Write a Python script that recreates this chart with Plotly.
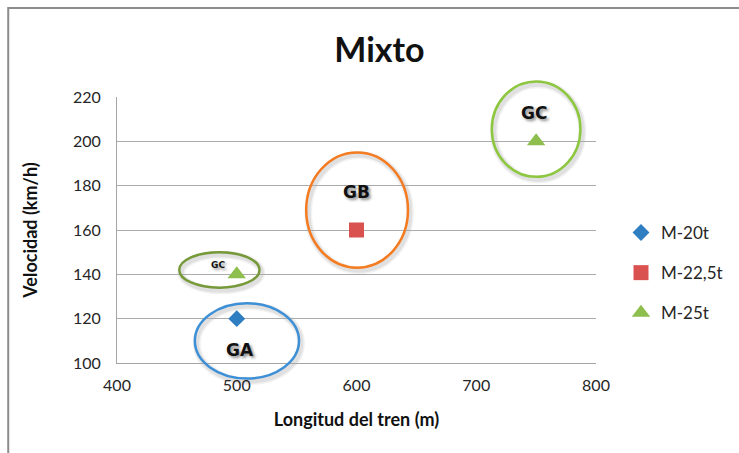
import plotly.graph_objects as go

# Series data
series_names = ["M-20t", "M-22,5t", "M-25t"]
m20_x = [500]
m20_y = [120]
m225_x = [600]
m225_y = [160]
m25_x = [500, 750]
m25_y = [140, 200]

# Group ellipses (label, x0, x1, y0, y1 in data units) and label positions
group_labels = ["GA", "GB", "GC", "GC"]
group_x0 = [465, 558, 713, 452]
group_x1 = [552, 643, 787, 519]
group_y0 = [93, 143, 184, 134]
group_y1 = [127, 195, 227, 150]
group_lx = [503, 600, 748, 484]
group_ly = [106, 177, 213, 144]
group_fs = [17, 17, 17, 9]
group_colors = ["#3D8FD6", "#F47B20", "#8DC63F", "#76993A"]

X_RANGE = [400, 800]
Y_RANGE = [100, 220]


def fx(v):
    return (v - X_RANGE[0]) / (X_RANGE[1] - X_RANGE[0])


def fy(v):
    return (v - Y_RANGE[0]) / (Y_RANGE[1] - Y_RANGE[0])


fig = go.Figure()
fig.add_trace(go.Scatter(x=m20_x, y=m20_y, mode="markers", name=series_names[0],
                         legendgroup="a",
                         marker=dict(symbol="diamond", size=13, color="#2F7EC1")))
fig.add_trace(go.Scatter(x=m225_x, y=m225_y, mode="markers", name=series_names[1],
                         legendgroup="b",
                         marker=dict(symbol="square", size=15, color="#D9524F")))
fig.add_trace(go.Scatter(x=m25_x, y=m25_y, mode="markers", name=series_names[2],
                         legendgroup="c",
                         marker=dict(symbol="triangle-up", size=16, color="#8DBE4E")))

shapes = []
annotations = []
for lab, x0, x1, y0, y1, lx, ly, fs, col in zip(group_labels, group_x0, group_x1, group_y0,
                                                group_y1, group_lx, group_ly, group_fs,
                                                group_colors):
    # soft shadow under the ellipse
    for w, a in [(8, 0.05), (5, 0.07)]:
        shapes.append(dict(type="circle", xref="x domain", yref="y domain",
                           x0=fx(x0) + 0.004, x1=fx(x1) + 0.004,
                           y0=fy(y0) - 0.01, y1=fy(y1) - 0.01,
                           line=dict(color=f"rgba(0,0,0,{a})", width=w), layer="below"))
    shapes.append(dict(type="circle", xref="x domain", yref="y domain",
                       x0=fx(x0), x1=fx(x1), y0=fy(y0), y1=fy(y1),
                       line=dict(color=col, width=2.5), layer="above"))
    # group label with a soft drop shadow
    annotations.append(dict(x=lx, y=ly, xref="x", yref="y", text=f"<b>{lab}</b>",
                            showarrow=False,
                            font=dict(family="DejaVu Sans", size=fs, color="#111111",
                                      shadow="2px 2px 3px rgba(0,0,0,0.45)")))

# outer chart frame
shapes.append(dict(type="rect", xref="paper", yref="paper",
                   x0=(8 - 117) / 480, x1=(760 - 117) / 480,
                   y0=-(480 - 363) / 266, y1=1 + (97 - 8) / 266,
                   line=dict(color="#8C8C8C", width=2), layer="below"))

fig.update_layout(
    width=739, height=453,
    margin=dict(l=117, r=142, t=97, b=90),
    paper_bgcolor="white", plot_bgcolor="white",
    font=dict(family="Lato", size=16, color="#262626"),
    title=dict(text="<b>Mixto</b>", x=(380 - 117) / 480, xref="paper", xanchor="center",
               y=1 - 50 / 453, yanchor="middle",
               font=dict(family="Lato", size=34, color="#111111")),
    xaxis=dict(range=X_RANGE, dtick=100, showgrid=False, zeroline=False,
               showline=True, linecolor="#A6A6A6", linewidth=1,
               ticks="", ticklabelstandoff=8,
               title=dict(text="<b>Longitud del tren (m)</b>", standoff=20,
                          font=dict(size=18, color="#111111"))),
    yaxis=dict(range=Y_RANGE, dtick=20, showgrid=True, gridcolor="#ABABAB", gridwidth=1,
               zeroline=False, showline=True, linecolor="#A6A6A6", linewidth=1,
               ticks="", ticklabelstandoff=12,
               title=dict(text="<b>Velocidad (km/h)</b>", standoff=30,
                          font=dict(size=18, color="#111111"))),
    legend=dict(x=1.05, xanchor="left", y=(363 - 215) / 266, yanchor="top",
                font=dict(size=17, color="#262626"), tracegroupgap=15,
                itemwidth=30, bgcolor="rgba(0,0,0,0)"),
    shapes=shapes,
    annotations=annotations,
    showlegend=True,
)

fig.write_html("out.html")
